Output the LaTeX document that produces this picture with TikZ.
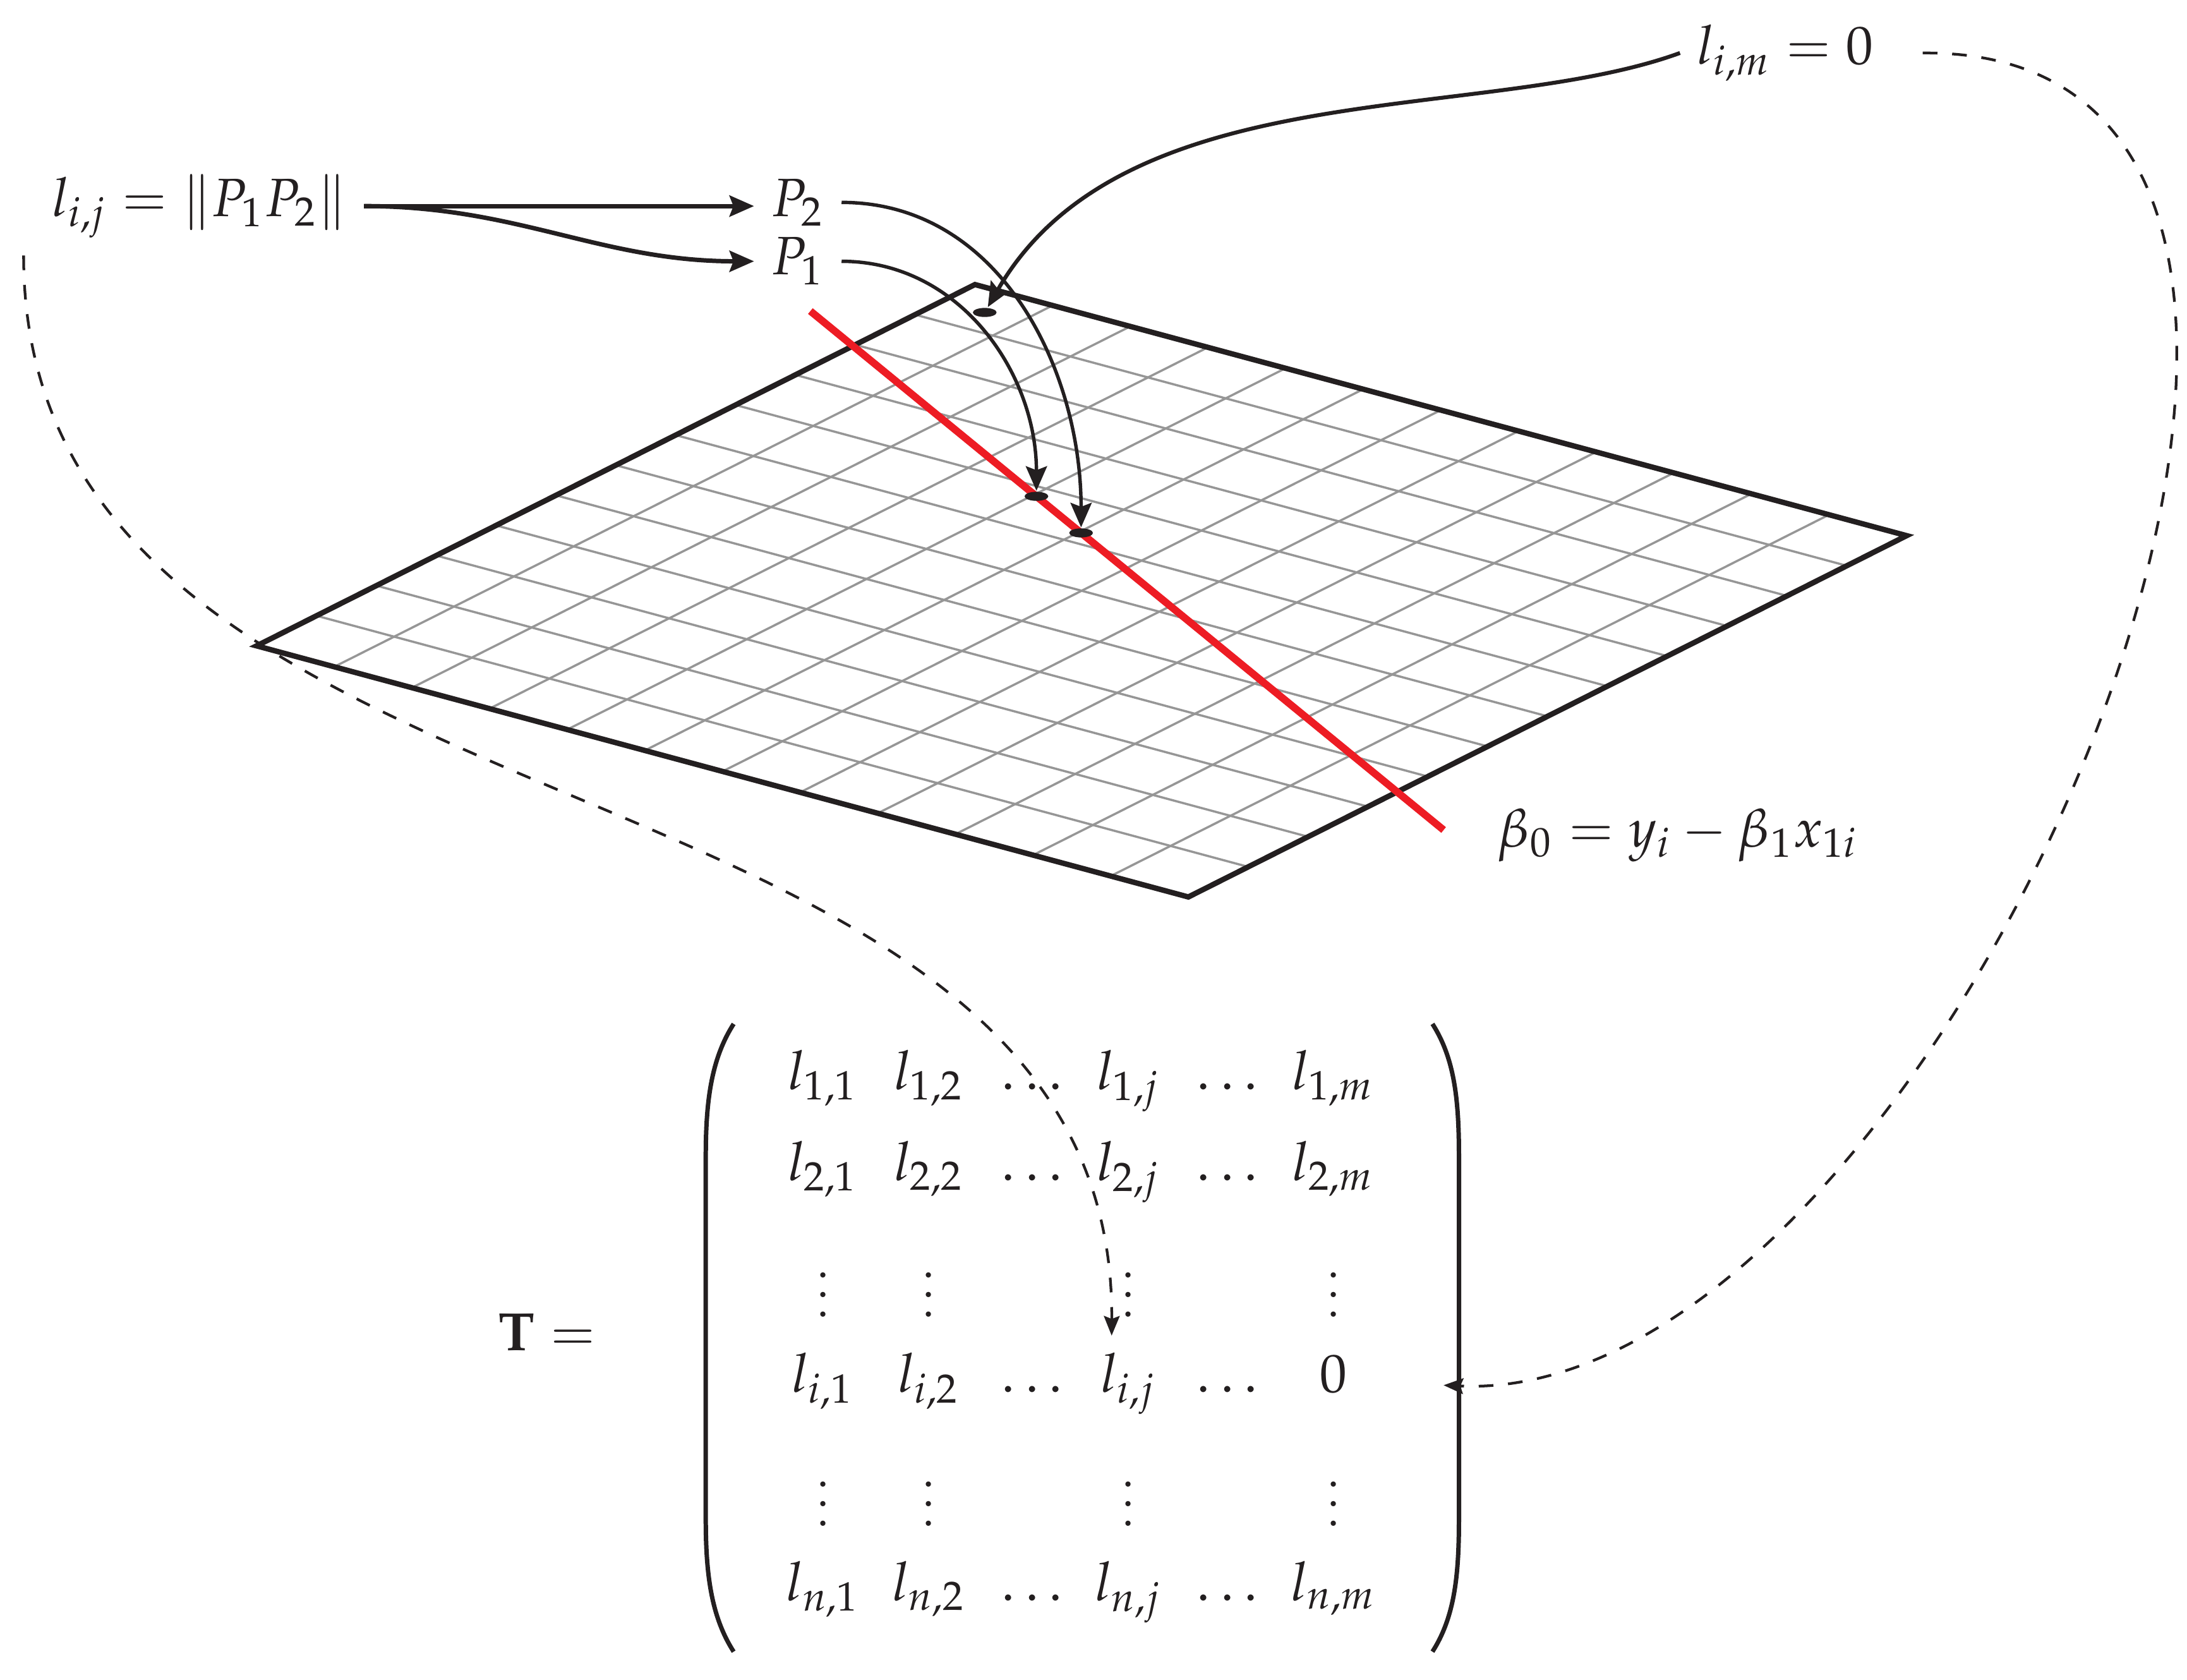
\documentclass[tikz,border=0pt]{standalone}
\usepackage{amsmath}
\usepackage{mathpazo}
\usetikzlibrary{calc,arrows.meta,shapes.geometric}
\definecolor{rojo}{RGB}{237,28,36}
\definecolor{gris}{RGB}{150,150,150}
\definecolor{negro}{RGB}{35,31,32}

\begin{document}
\begin{tikzpicture}[
    every node/.style={font=\fontsize{11}{13}\selectfont, text=negro},
    borde/.style={negro, line width=1.1pt},
    rejilla/.style={gris, line width=0.45pt},
    recta/.style={rojo, line width=1.5pt},
    flecha/.style={negro, line width=0.9pt, -{Stealth[length=5pt, width=4.3pt, inset=0.8pt]}},
    curva/.style={negro, line width=0.7pt, -{Stealth[length=5pt, width=4.3pt, inset=0.8pt]}},
    guia/.style={negro, line width=0.55pt, dashed, -{Stealth[length=4pt, width=3.2pt, inset=0.6pt]}},
    punto/.style={ellipse, fill=negro, inner sep=0pt, minimum width=0.17cm, minimum height=0.065cm},
    entrada/.style={anchor=base},
    parentesis/.style={negro, line width=0.9pt}]

    % Marco fijo del dibujo
    \useasboundingbox (0,0) rectangle (15.68,12.04);

    % --- Plano en perspectiva (paralelogramo) ---
    \def\ndiv{12} % Divisiones de la rejilla
    \coordinate (A) at (6.99,10.00); % esquina superior
    \coordinate (B) at (13.67,8.20); % esquina derecha
    \coordinate (C) at (8.52,5.61);  % esquina inferior
    \coordinate (D) at (1.84,7.41);  % esquina izquierda

    % 1. Rejilla interior
    \foreach \k in {1,...,11} {
        \pgfmathsetmacro{\f}{\k/\ndiv}
        \draw[rejilla] ($(A)!\f!(B)$) -- ($(D)!\f!(C)$);
        \draw[rejilla] ($(A)!\f!(D)$) -- ($(B)!\f!(C)$);
    }

    % 2. Borde del plano
    \draw[borde] (A) -- (B) -- (C) -- (D) -- cycle;

    % 3. Recta de regresion
    \coordinate (r0) at (5.81,9.81);
    \coordinate (r1) at (10.35,6.09);
    \draw[recta] (r0) -- (r1);

    % 4. Puntos sobre el plano
    \node[punto] (e0) at (7.06,9.80) {};
    \node[punto] (e1) at ($(r0)!0.357!(r1)$) {};
    \node[punto] (e2) at ($(r0)!0.4275!(r1)$) {};

    % --- Etiquetas ---
    \node[entrada] (lij) at (1.43,10.49) {$l_{i,j} = \|P_1P_2\|$};
    \node[entrada] (p2) at (5.72,10.49) {$P_2$};
    \node[entrada] (p1) at (5.72,10.07) {$P_1$};
    \node[entrada] (lim) at (12.80,11.58) {$l_{i,m} = 0$};
    \node[entrada] (beta) at (12.03,5.97) {$\beta_0 = y_i - \beta_1 x_{1i}$};

    % --- Flechas hacia los puntos ---
    \draw[flecha] (lij.east) -- (lij.east -| p2.west);
    \draw[flecha] (lij.east) to[out=0, in=180] (p1.west);
    \draw[curva] (p2.east) to[out=0, in=90] (e2);
    \draw[curva] (p1.east) to[out=0, in=90] (e1);
    \draw[curva, line width=0.8pt] (lim.west) .. controls +(200:1.5) and +(60:2.0) .. (e0);

    % --- Matriz T ---
    \node[entrada] (tT) at (3.92,2.36) {$\mathbf{T} =$};

    % Filas con elementos (fila, altura, ultimo elemento)
    \foreach \f/\y/\ult in {1/4.23/l_{1,m}, 2/3.575/l_{2,m}, i/2.06/0, n/0.565/l_{n,m}} {
        \foreach \c/\x in {1/5.90, 2/6.66, j/8.09} {
            \node[entrada] (t-\f-\c) at (\x,\y) {$l_{\f,\c}$};
        }
        \node[entrada] (t-\f-d1) at (7.40,\y) {$\ldots$};
        \node[entrada] (t-\f-d2) at (8.80,\y) {$\ldots$};
        \node[entrada] (t-\f-m) at (9.56,\y) {$\ult$};
    }

    % Filas de puntos verticales
    \foreach \y [count=\a] in {2.60, 1.10} {
        \foreach \x [count=\b] in {5.90, 6.66, 8.09, 9.56} {
            \node[entrada, inner sep=0pt] (v\a\b) at (\x,\y) {$\vdots$};
        }
    }

    % Parentesis
    \draw[parentesis] (5.26,4.70) .. controls (5.10,4.45) and (5.06,4.15) .. (5.06,3.75)
        -- (5.06,1.15) .. controls (5.06,0.75) and (5.10,0.45) .. (5.26,0.20);
    \draw[parentesis] (10.27,4.70) .. controls (10.43,4.45) and (10.46,4.15) .. (10.46,3.75)
        -- (10.46,1.15) .. controls (10.46,0.75) and (10.43,0.45) .. (10.27,0.20);
    \coordinate (ti) at (10.35,2.11);

    % --- Flechas discontinuas hacia la matriz ---
    \draw[guia] ([xshift=-0.8mm]lij.south west) .. controls +(0,-4.4) and +(0.03,4.38) .. ([xshift=-1.2mm]t-i-j.north);
    \draw[guia] ([xshift=2.3mm]lim.east) .. controls +(4.24,0.03) and +(3.65,-0.17) .. (ti);

\end{tikzpicture}
\end{document}
